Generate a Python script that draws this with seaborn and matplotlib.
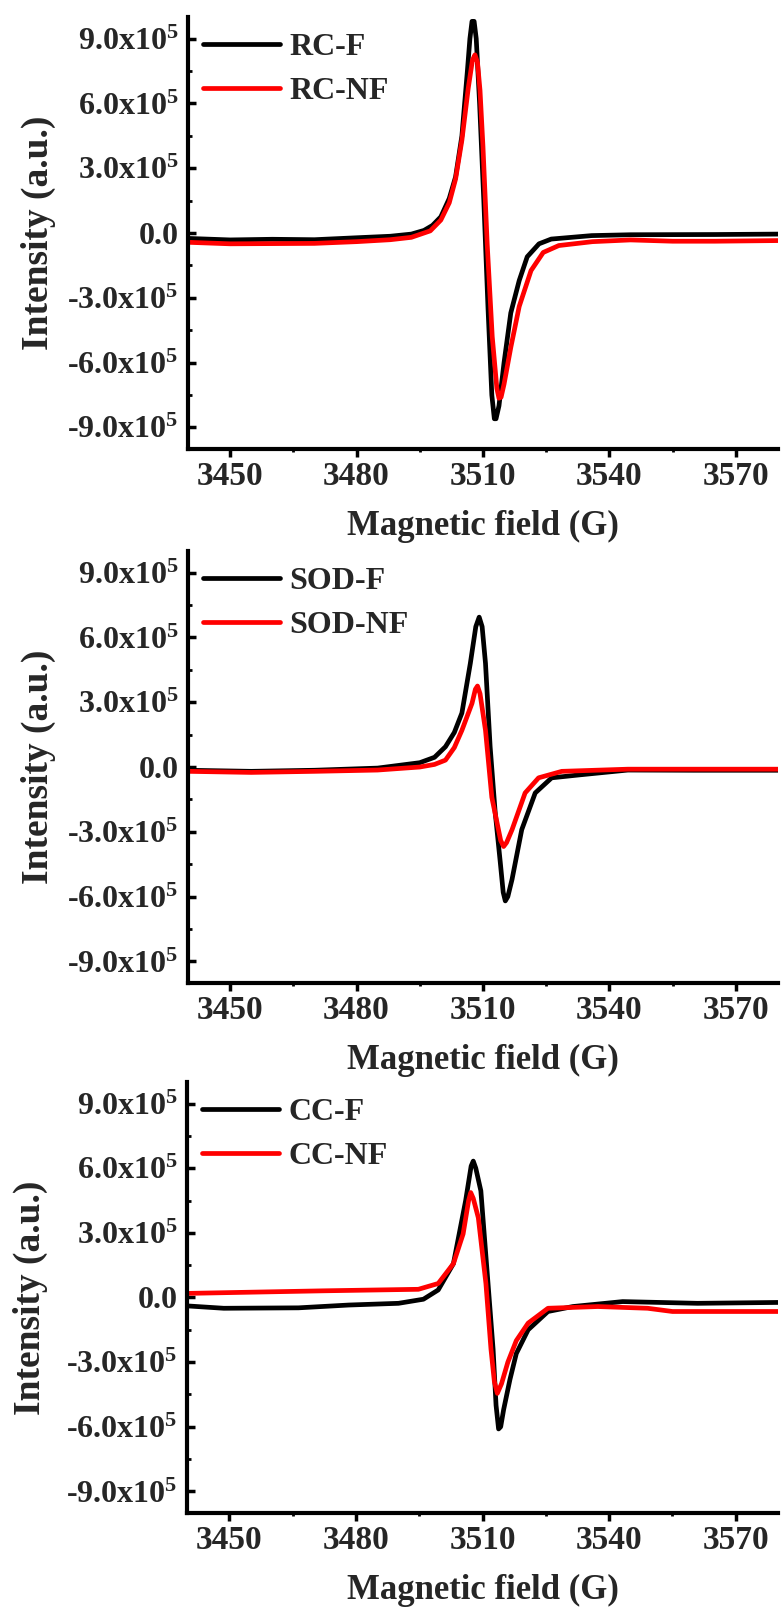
import numpy as np
import pandas as pd
import matplotlib
matplotlib.use('Agg')
import matplotlib.pyplot as plt
import seaborn as sns
from matplotlib.ticker import FixedLocator, FixedFormatter, MultipleLocator

# magnetic field (G) and intensity (x1e5)
rc_f_x = [3440, 3450, 3460, 3470, 3480, 3488, 3493, 3496, 3498, 3500, 3502, 3503.5, 3505, 3506.3,
          3506.9, 3507.4, 3507.9, 3508.4, 3509.2, 3510.2, 3511.2, 3512.1, 3512.7, 3513.1, 3513.8,
          3515, 3516.6, 3518.6, 3520.5, 3523.3, 3526.2, 3535.8, 3545, 3565, 3580]
rc_f_y = [-0.25, -0.32, -0.29, -0.31, -0.22, -0.15, -0.05, 0.12, 0.35, 0.75, 1.6, 2.6, 4.5, 7.5,
          9.0, 9.8, 9.8, 9.0, 6.0, 1.5, -3.5, -7.5, -8.6, -8.6, -8.0,
          -6.0, -3.7, -2.2, -1.1, -0.5, -0.28, -0.12, -0.08, -0.07, -0.05]
rc_nf_x = [3440, 3450, 3460, 3470, 3480, 3488, 3493, 3497.5, 3500, 3502, 3503.5, 3505, 3506.5,
           3507.5, 3508.1, 3508.7, 3509.3, 3510, 3511, 3512.2, 3513.3, 3513.8, 3514.3, 3515,
           3516.6, 3518.6, 3521.4, 3524.3, 3528, 3536, 3545, 3555, 3565, 3580]
rc_nf_y = [-0.43, -0.5, -0.49, -0.48, -0.4, -0.31, -0.2, 0.1, 0.6, 1.4, 2.5, 4.3, 6.7,
           8.0, 8.25, 7.9, 6.6, 4.0, -0.5, -4.8, -7.2, -7.65, -7.6, -7.0,
           -5.3, -3.4, -1.74, -0.9, -0.58, -0.4, -0.32, -0.38, -0.38, -0.35]

sod_f_x = [3440, 3455, 3470, 3485, 3495, 3498.5, 3501.1, 3503.2, 3505, 3507, 3508.3, 3509.1,
           3509.8, 3510.6, 3511.7, 3512.9, 3514.1, 3514.8, 3515.3, 3515.9, 3516.9, 3519.2,
           3522.4, 3526.3, 3532.6, 3544.4, 3560, 3580]
sod_f_y = [-0.15, -0.2, -0.15, -0.05, 0.2, 0.45, 0.94, 1.6, 2.5, 4.8, 6.5, 6.94,
           6.5, 4.8, 0.94, -2.1, -4.4, -5.8, -6.2, -6.0, -5.2, -2.9,
           -1.2, -0.5, -0.37, -0.14, -0.15, -0.15]
sod_nf_x = [3440, 3455, 3470, 3485, 3495, 3498.5, 3501.1, 3503.2, 3505, 3507.4, 3508.2, 3508.7,
            3509.3, 3510.6, 3512.1, 3514.2, 3514.9, 3515.6, 3516.9, 3520, 3523.2, 3528.7,
            3544.4, 3560, 3580]
sod_nf_y = [-0.2, -0.25, -0.2, -0.14, 0.0, 0.12, 0.32, 0.9, 1.7, 2.95, 3.6, 3.75,
            3.4, 1.7, -1.4, -3.4, -3.68, -3.5, -2.9, -1.2, -0.5, -0.2,
            -0.1, -0.1, -0.1]

cc_f_x = [3440, 3448.7, 3466.4, 3478.3, 3490.1, 3496, 3499.5, 3503.1, 3506, 3507.3, 3507.8,
          3508.4, 3509.6, 3511.3, 3512.5, 3513.2, 3513.8, 3514.3, 3515, 3516.5, 3518, 3520.8,
          3525.5, 3531.4, 3543.2, 3560.9, 3580]
cc_f_y = [-0.39, -0.5, -0.48, -0.35, -0.27, -0.08, 0.35, 1.57, 4.5, 6.1, 6.33,
          6.0, 4.95, 0.65, -2.4, -5.0, -6.1, -6.0, -5.2, -3.8, -2.6, -1.5,
          -0.65, -0.42, -0.19, -0.27, -0.23]
cc_nf_x = [3440, 3472.4, 3494.8, 3499.5, 3503.1, 3505.4, 3506.7, 3507.2, 3507.8, 3509, 3510.8,
           3512, 3512.8, 3513.5, 3514.5, 3516, 3518, 3520.8, 3525.5, 3537.3, 3549.1, 3555, 3580]
cc_nf_y = [0.19, 0.31, 0.38, 0.65, 1.57, 2.95, 4.5, 4.87, 4.6, 3.7, 0.65,
           -2.4, -3.9, -4.45, -4.0, -3.0, -2.0, -1.19, -0.5, -0.42, -0.5, -0.65, -0.65]

panels = [
    ('RC-F', rc_f_x, rc_f_y, 'RC-NF', rc_nf_x, rc_nf_y),
    ('SOD-F', sod_f_x, sod_f_y, 'SOD-NF', sod_nf_x, sod_nf_y),
    ('CC-F', cc_f_x, cc_f_y, 'CC-NF', cc_nf_x, cc_nf_y),
]

x_ticks = [3450, 3480, 3510, 3540, 3570]
y_ticks = [-9e5, -6e5, -3e5, 0, 3e5, 6e5, 9e5]
y_tick_labels = ['-9.0x10$^5$', '-6.0x10$^5$', '-3.0x10$^5$', '0.0',
                 '3.0x10$^5$', '6.0x10$^5$', '9.0x10$^5$']

sns.set_style('ticks')
plt.rcParams['font.family'] = ['Liberation Serif', 'DejaVu Serif']
plt.rcParams['font.weight'] = 'bold'
plt.rcParams['mathtext.fontset'] = 'custom'
plt.rcParams['mathtext.rm'] = 'Liberation Serif:bold'
plt.rcParams['mathtext.it'] = 'Liberation Serif:bold'
plt.rcParams['mathtext.bf'] = 'Liberation Serif:bold'

fig = plt.figure(figsize=(7.81, 16.07), dpi=100)
boxes = [[0.2407, 0.7206, 0.7554, 0.2688],
         [0.2407, 0.3883, 0.7554, 0.2688],
         [0.2395, 0.0585, 0.7567, 0.2682]]
ylab_x = [-0.224, -0.224, -0.236]

for i, (lab1, x1, y1, lab2, x2, y2) in enumerate(panels):
    ax = fig.add_axes(boxes[i])
    df1 = pd.DataFrame({'field': x1, 'intensity': np.array(y1) * 1e5})
    df2 = pd.DataFrame({'field': x2, 'intensity': np.array(y2) * 1e5})
    sns.lineplot(data=df1, x='field', y='intensity', ax=ax, color='black', linewidth=3.4,
                 label=lab1, estimator=None, sort=False)
    sns.lineplot(data=df2, x='field', y='intensity', ax=ax, color='#ff0000', linewidth=3.4,
                 label=lab2, estimator=None, sort=False)

    ax.set_xlim(3440, 3580)
    ax.set_ylim(-1e6, 1e6)
    ax.xaxis.set_major_locator(FixedLocator(x_ticks))
    ax.xaxis.set_minor_locator(MultipleLocator(15))
    ax.yaxis.set_major_locator(FixedLocator(y_ticks))
    ax.yaxis.set_major_formatter(FixedFormatter(y_tick_labels))
    ax.yaxis.set_minor_locator(MultipleLocator(1.5e5))

    for s in ['top', 'right']:
        ax.spines[s].set_visible(False)
    for s in ['left', 'bottom']:
        ax.spines[s].set_linewidth(3)
        ax.spines[s].set_color('black')

    ax.tick_params(axis='y', which='major', direction='in', length=6, width=2.5,
                   labelsize=23, pad=7, color='black')
    ax.tick_params(axis='y', which='minor', direction='in', length=3, width=2, color='black')
    ax.tick_params(axis='x', which='major', direction='out', length=5.5, width=2.5,
                   labelsize=24, pad=3, color='black')
    ax.tick_params(axis='x', which='minor', direction='out', length=2.5, width=2, color='black')
    for t in ax.get_xticklabels() + ax.get_yticklabels():
        t.set_fontweight('bold')

    ax.set_xlabel('Magnetic field (G)', fontsize=25, fontweight='bold', labelpad=13)
    ax.set_ylabel('Intensity (a.u.)', fontsize=27, fontweight='bold')
    ax.yaxis.set_label_coords(ylab_x[i], 0.5)

    leg = ax.legend(loc='upper left', bbox_to_anchor=(0.026, 0.963), frameon=False,
                    fontsize=23, handlelength=2.4, handletextpad=0.3, labelspacing=0.45,
                    borderpad=0, borderaxespad=0)
    for line in leg.get_lines():
        line.set_linewidth(3.4)
    for t in leg.get_texts():
        t.set_fontweight('bold')

fig.savefig('out.png', dpi=100)
